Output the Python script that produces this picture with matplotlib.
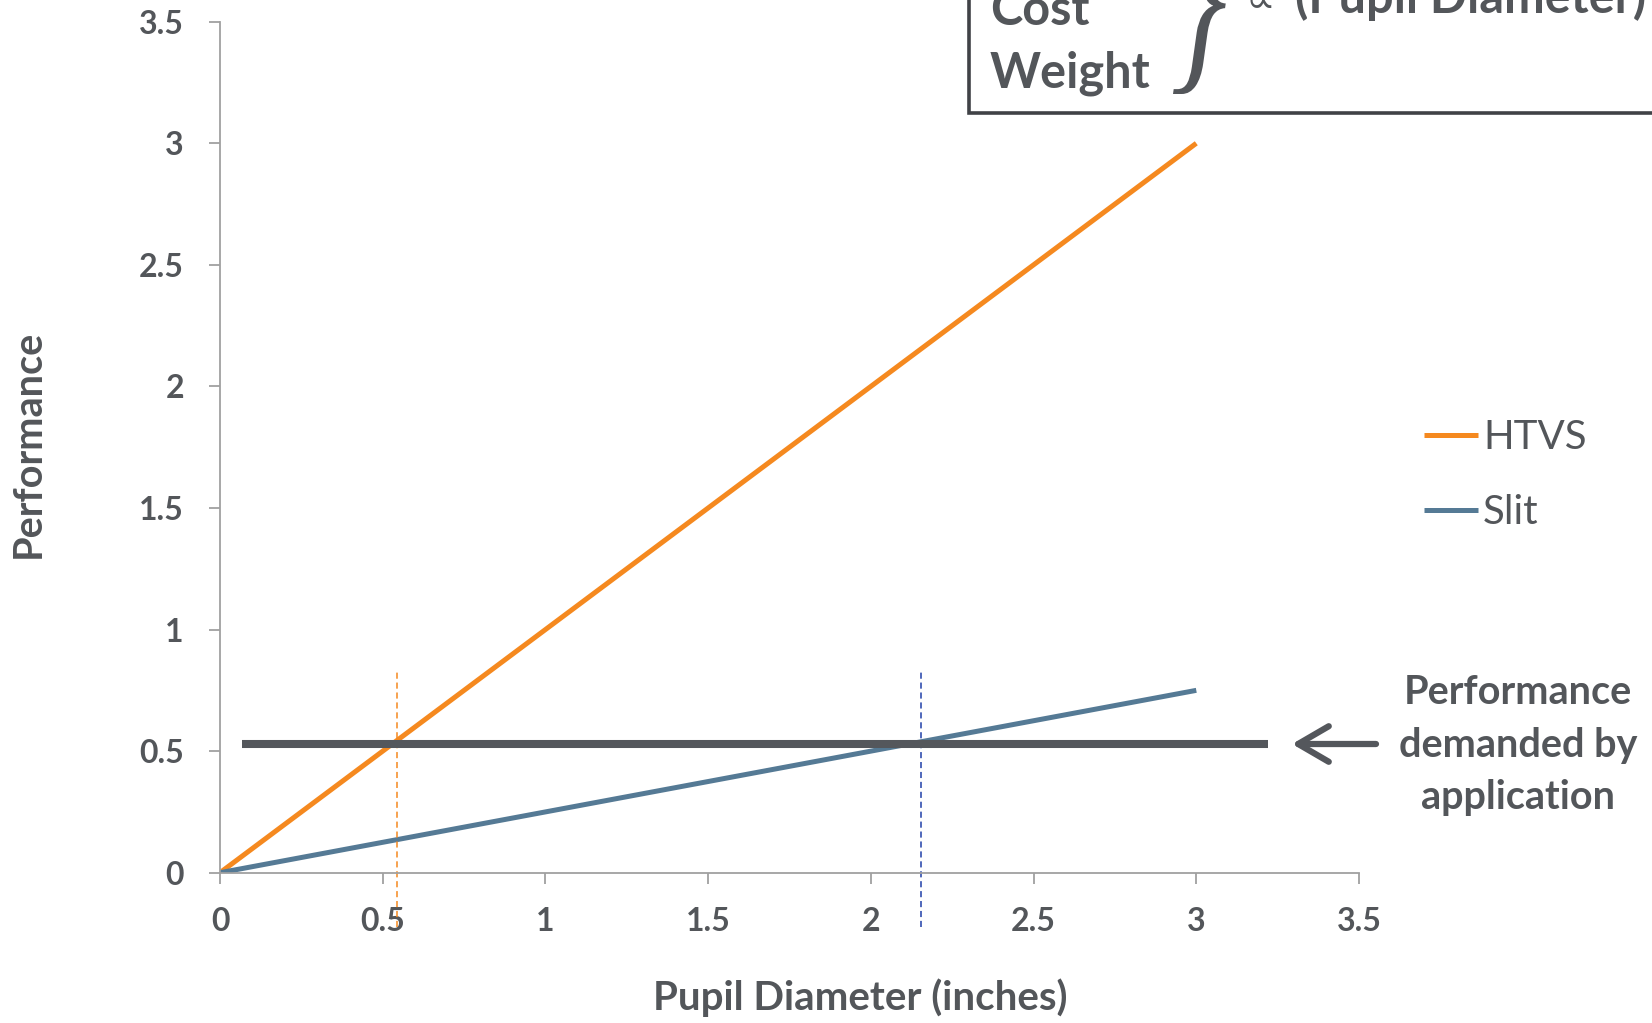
import matplotlib
matplotlib.use("Agg")
import matplotlib.pyplot as plt
from matplotlib.patches import Rectangle, PathPatch
from matplotlib.textpath import TextPath
from matplotlib.font_manager import FontProperties
from matplotlib.transforms import Affine2D, IdentityTransform

# ---- data ----
pupil_x = [0, 3]
htvs_y = [0, 3]
slit_y = [0, 0.75]
series_labels = ["HTVS", "Slit"]
demand_level = 0.53
demand_x = [0.067, 3.22]
htvs_cross = 0.545
slit_cross = 2.153
xticks = [0, 0.5, 1, 1.5, 2, 2.5, 3, 3.5]
yticks = [0, 0.5, 1, 1.5, 2, 2.5, 3, 3.5]
tick_labels = ["0", "0.5", "1", "1.5", "2", "2.5", "3", "3.5"]

ORANGE = "#F5891F"
SLATE = "#557A95"
DARK = "#54575C"
TXT = "#53565A"
AXC = "#A0A0A0"
NAVY = "#1F3FA8"

W, H = 1652, 1023
plt.rcParams['font.family'] = ['Lato', 'DejaVu Sans']
fig = plt.figure(figsize=(W / 100, H / 100), dpi=100)
ax = fig.add_axes([220 / W, 1 - 872.7 / H, (1359 - 220) / W, (872.7 - 21.7) / H])

ax.plot(pupil_x, htvs_y, color=ORANGE, lw=3.6, label=series_labels[0], solid_capstyle='butt')
ax.plot(pupil_x, slit_y, color=SLATE, lw=3.6, label=series_labels[1], solid_capstyle='butt')
ax.plot(demand_x, [demand_level, demand_level], color=DARK, lw=5.8, clip_on=False, zorder=3,
        solid_capstyle='butt')
ax.plot([htvs_cross, htvs_cross], [-0.222, 0.826], color=ORANGE, lw=1.1, ls=(0, (4, 2.5)), clip_on=False)
ax.plot([slit_cross, slit_cross], [-0.222, 0.826], color=NAVY, lw=1.1, ls=(0, (4, 2.5)), clip_on=False)

ax.set_xlim(0, 3.5)
ax.set_ylim(0, 3.5)
ax.set_xticks(xticks)
ax.set_yticks(yticks)
ax.set_xticklabels(tick_labels)
ax.set_yticklabels(tick_labels)
for s in ['top', 'right']:
    ax.spines[s].set_visible(False)
for s in ['left', 'bottom']:
    ax.spines[s].set_color(AXC)
    ax.spines[s].set_linewidth(1.3)
ax.tick_params(axis='both', direction='out', length=8, width=1.3, color=AXC,
               labelsize=23, labelcolor=TXT)
ax.tick_params(axis='y', pad=18)
ax.tick_params(axis='x', pad=17)
for lab in ax.get_xticklabels() + ax.get_yticklabels():
    lab.set_fontweight('bold')

fig.text(28 / W, 1 - 444 / H, "Performance", rotation=90, ha='center', va='center',
         fontsize=28.5, fontweight='bold', color=TXT)
fig.text(860 / W, 1 - 1010 / H, "Pupil Diameter (inches)", ha='center', va='baseline',
         fontsize=29, fontweight='bold', color=TXT)

leg = ax.legend(frameon=False, loc='center left', bbox_to_anchor=(1424 / W, 1 - 475 / H),
                bbox_transform=fig.transFigure, fontsize=29, handlelength=1.35,
                handletextpad=0.12, labelspacing=0.94, borderpad=0, borderaxespad=0)
for t in leg.get_texts():
    t.set_color(TXT)

# arrow + annotation
ax.annotate("", xy=(1292, H - 744), xycoords='figure pixels',
            xytext=(1376, H - 744), textcoords='figure pixels',
            arrowprops=dict(arrowstyle='->,head_length=0.55,head_width=0.32', lw=4.5,
                            color=DARK, capstyle='round', joinstyle='round',
                            shrinkA=0, shrinkB=0, mutation_scale=40))
fig.text(1518 / W, 1 - 745 / H, "Performance\ndemanded by\napplication", ha='center', va='center',
         fontsize=28.5, fontweight='bold', color=TXT, linespacing=1.5)

# top-right box
box = Rectangle((969 / W, 1 - 113 / H), 0.6, 0.3, transform=fig.transFigure,
                facecolor='white', edgecolor='#404246', lw=2.6, zorder=5)
fig.add_artist(box)
fig.text(990 / W, 1 - 25 / H, "Cost", ha='left', va='baseline', fontsize=35,
         fontweight='bold', color=TXT, zorder=6)
fig.text(990 / W, 1 - 87 / H, "Weight", ha='left', va='baseline', fontsize=35,
         fontweight='bold', color=TXT, zorder=6)

tp = TextPath((0, 0), "}", size=100, prop=FontProperties(family='Liberation Serif'))
ext = tp.get_extents()
target_w, target_h = 40, 176
sx = target_w / ext.width
sy = target_h / ext.height
tr = (Affine2D().translate(-ext.x0, -ext.y0).scale(sx, sy)
      .skew_deg(8, 0).translate(1173, H - 94))
brace = PathPatch(tr.transform_path(tp), transform=IdentityTransform(),
                  facecolor=TXT, edgecolor='none', zorder=6)
fig.add_artist(brace)

fig.text(1245 / W, 1 - 13 / H, "\u221d", ha='left', va='baseline', fontsize=30,
         color=TXT, zorder=6, family=['DejaVu Sans'])
fig.text(1295 / W, 1 - 13 / H, "(Pupil Diameter)", ha='left', va='baseline', fontsize=35,
         fontweight='bold', color=TXT, zorder=6)

fig.savefig("out.png", dpi=100)
